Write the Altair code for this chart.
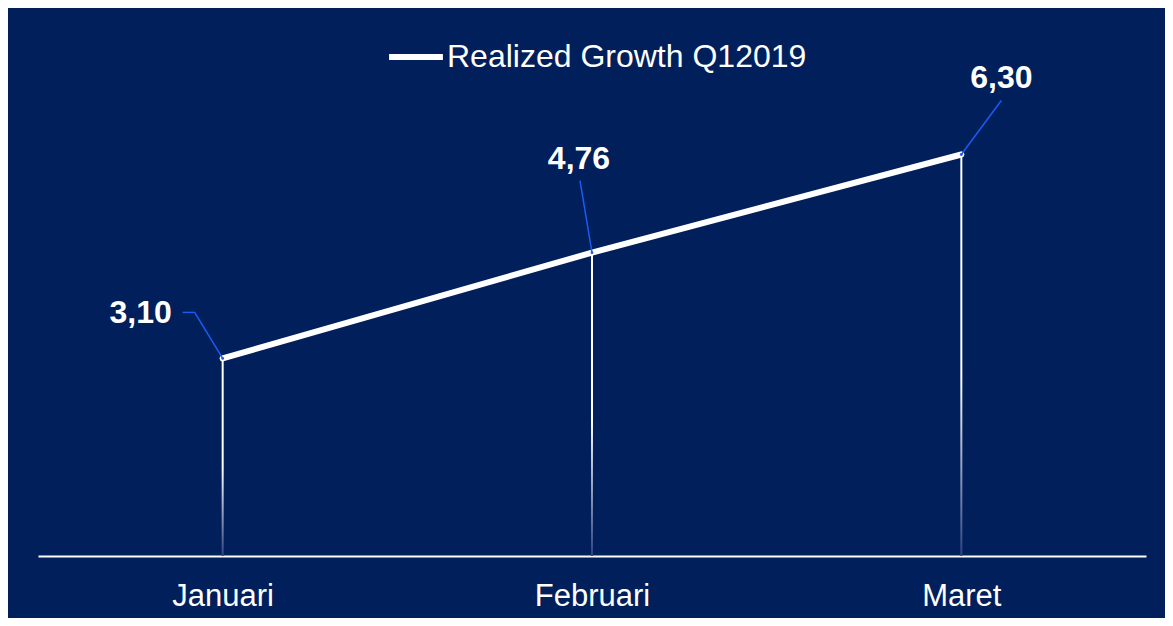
import altair as alt
import pandas as pd

months = ["Januari", "Februari", "Maret"]
growth = [3.10, 4.76, 6.30]
series_name = "Realized Growth Q12019"

# label placement (pixel offsets from each data point)
label_dx = [-82, -13, 40]
label_dy = [-45, -94, -76]
elbow_dx = [-28, -12, 40]
elbow_dy = [-46, -72, -54]
leader_dx = [-40, -12, 40]
leader_dy = [-46, -72, -54]

NAVY = "#001F5B"
BLUE = "#1A5CF5"
FONT = "Liberation Sans"

df = pd.DataFrame({"month": months, "value": growth, "series": series_name})

base = alt.Chart(df).transform_calculate(
    label="replace(format(datum.value, '.2f'), '.', ',')"
)

x = alt.X(
    "month:N",
    sort=months,
    scale=alt.Scale(type="point", padding=0.5),
    axis=alt.Axis(
        title=None,
        labelAngle=0,
        ticks=False,
        grid=False,
        domainColor="white",
        domainWidth=2,
        labelColor="white",
        labelFont=FONT,
        labelFontSize=31,
        labelPadding=25,
    ),
)
y = alt.Y("value:Q", scale=alt.Scale(domain=[0, 7.5]), axis=None)

drop = base.mark_bar(
    size=2,
    fill=alt.Gradient(
        gradient="linear",
        stops=[
            alt.GradientStop(color="white", offset=0),
            alt.GradientStop(color="white", offset=0.55),
            alt.GradientStop(color="#2E4280", offset=1),
        ],
        x1=0, x2=0, y1=0, y2=1,
    ),
).encode(x=x, y=y, y2=alt.datum(0))

line = base.mark_line(strokeWidth=6, strokeCap="round", strokeJoin="round").encode(
    x=x,
    y=y,
    color=alt.Color(
        "series:N",
        scale=alt.Scale(range=["white"]),
        legend=alt.Legend(
            title=None,
            orient="none",
            legendX=348,
            legendY=-51,
            symbolType="stroke",
            symbolSize=2900,
            symbolStrokeWidth=6,
            labelFontSize=32,
            labelColor="white",
            labelFont=FONT,
            labelOffset=1,
            labelLimit=800,
        ),
    ),
)

points = base.mark_point(filled=True, size=30, color="white", opacity=1).encode(x=x, y=y)

layers = [drop, line, points]
for i, m in enumerate(months):
    sub = base.transform_filter(alt.datum.month == m)
    seg1 = sub.mark_rule(
        color=BLUE, strokeWidth=1.5,
        x2Offset=elbow_dx[i], y2Offset=elbow_dy[i],
    ).encode(x=x, x2=alt.X2("month:N"), y=y, y2=alt.Y2("value:Q"))
    seg2 = sub.mark_rule(
        color=BLUE, strokeWidth=1.5,
        xOffset=elbow_dx[i], yOffset=elbow_dy[i],
        x2Offset=leader_dx[i], y2Offset=leader_dy[i],
    ).encode(x=x, x2=alt.X2("month:N"), y=y, y2=alt.Y2("value:Q"))
    txt = sub.mark_text(
        dx=label_dx[i], dy=label_dy[i],
        font=FONT, fontSize=32, fontWeight="bold", color="white",
        align="center", baseline="middle",
    ).encode(x=x, y=y, text="label:N")
    layers += [seg1, seg2, txt]

dots = base.mark_point(filled=True, size=8, color=BLUE, opacity=1).encode(x=x, y=y)
layers.append(dots)

chart = alt.layer(*layers).properties(
    width=1108,
    height=478,
    autosize=alt.AutoSizeParams(type="none"),
    padding={"left": 30, "top": 70, "right": 19, "bottom": 62},
    background=NAVY,
).configure_view(stroke=None)

chart.save("out.html", embed_options={"renderer": "svg", "actions": False})
